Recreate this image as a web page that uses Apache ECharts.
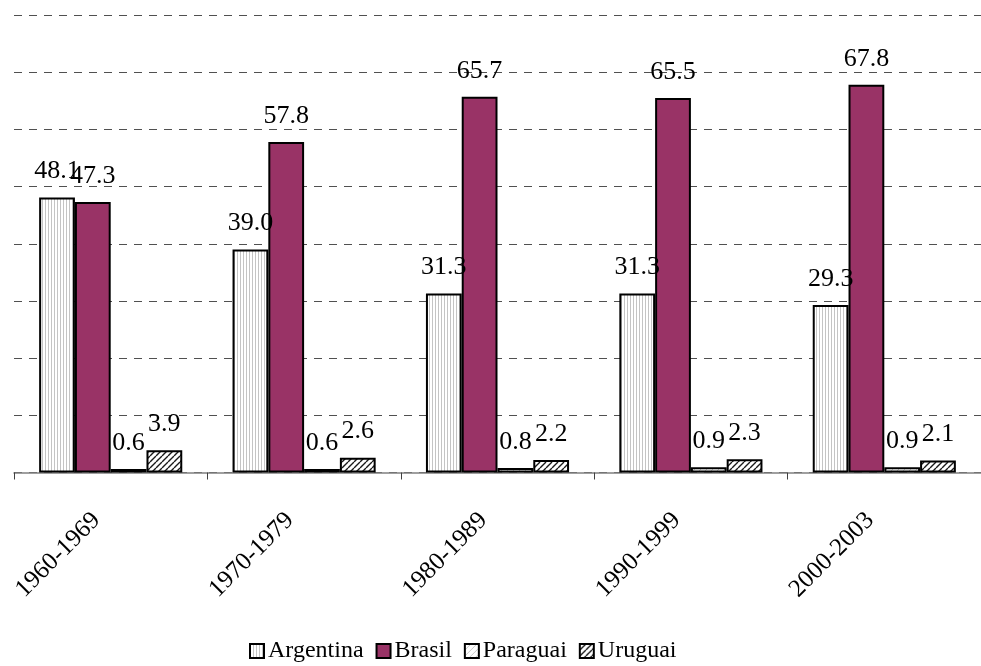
<!DOCTYPE html>
<html>
<head>
<meta charset="utf-8">
<script src="https://cdn.jsdelivr.net/npm/echarts@6/dist/echarts.min.js"></script>
<style>
html,body{margin:0;padding:0;background:#fff;}
#chart{width:981px;height:666px;}
</style>
</head>
<body>
<div id="chart"></div>
<script>
var categories = ['1960-1969', '1970-1979', '1980-1989', '1990-1999', '2000-2003'];
var argentina = [48.1, 39.0, 31.3, 31.3, 29.3];
var brasil = [47.3, 57.8, 65.7, 65.5, 67.8];
var paraguai = [0.6, 0.6, 0.8, 0.9, 0.9];
var uruguai = [3.9, 2.6, 2.2, 2.3, 2.1];
var seriesNames = ['Argentina', 'Brasil', 'Paraguai', 'Uruguai'];

function makePattern(kind) {
  var c = document.createElement('canvas');
  var ctx;
  if (kind === 'vert') {
    c.width = 3; c.height = 3;
    ctx = c.getContext('2d');
    ctx.fillStyle = '#fff';
    ctx.fillRect(0, 0, 3, 3);
    ctx.fillStyle = '#c4c4c4';
    ctx.fillRect(0, 0, 1, 3);
  } else {
    var s = 6;
    c.width = s; c.height = s;
    ctx = c.getContext('2d');
    ctx.fillStyle = '#fff';
    ctx.fillRect(0, 0, s, s);
    ctx.strokeStyle = kind === 'light' ? '#c8c8c8' : '#1a1a1a';
    ctx.lineWidth = kind === 'light' ? 1 : 1.4;
    ctx.beginPath();
    for (var k = -s; k <= 2 * s; k += s) {
      ctx.moveTo(k, s);
      ctx.lineTo(k + s, 0);
    }
    ctx.stroke();
  }
  return { image: c, repeat: 'repeat' };
}

var fills = [makePattern('vert'), '#993366', makePattern('light'), makePattern('dark')];
var dataSets = [argentina, brasil, paraguai, uruguai];
var FONT = '"Liberation Serif", "Times New Roman", serif';

var chart = echarts.init(document.getElementById('chart'), null, {renderer: 'canvas'});
var series = dataSets.map(function (d, i) {
  return {
    name: seriesNames[i],
    type: 'bar',
    data: d,
    barGap: '0%',
    barCategoryGap: '26%',
    itemStyle: { color: fills[i], borderColor: '#000', borderWidth: 2 },
    label: {
      show: true,
      position: 'top',
      distance: 13,
      color: '#000',
      fontFamily: FONT,
      fontSize: 26,
      formatter: function (p) { return p.value.toFixed(1); }
    },
    emphasis: { disabled: true }
  };
});

chart.setOption({
  animation: false,
  backgroundColor: '#fff',
  grid: { left: 14, top: 15, width: 977.5, height: 457.5, containLabel: false },
  legend: {
    bottom: -2,
    left: 244,
    itemWidth: 14,
    itemHeight: 14,
    itemGap: 12,
    icon: 'rect',
    textStyle: { fontFamily: FONT, fontSize: 24, color: '#000', padding: [0, 0, 0, -1] },
    data: seriesNames
  },
  xAxis: {
    type: 'category',
    data: categories,
    axisLine: { lineStyle: { color: '#808080', width: 1.5 } },
    axisTick: { show: true, length: 7, lineStyle: { color: '#404040' } },
    axisLabel: {
      rotate: 45,
      margin: 30,
      padding: [0, 20, 0, 0],
      fontFamily: FONT,
      fontSize: 25,
      color: '#000',
      interval: 0
    }
  },
  yAxis: {
    type: 'value',
    min: 0,
    max: 80,
    interval: 10,
    axisLine: { show: false },
    axisTick: { show: false },
    axisLabel: { show: false },
    splitLine: { show: true, lineStyle: { color: '#505050', type: [8, 7], width: 1 } }
  },
  series: series
});
</script>
</body>
</html>
